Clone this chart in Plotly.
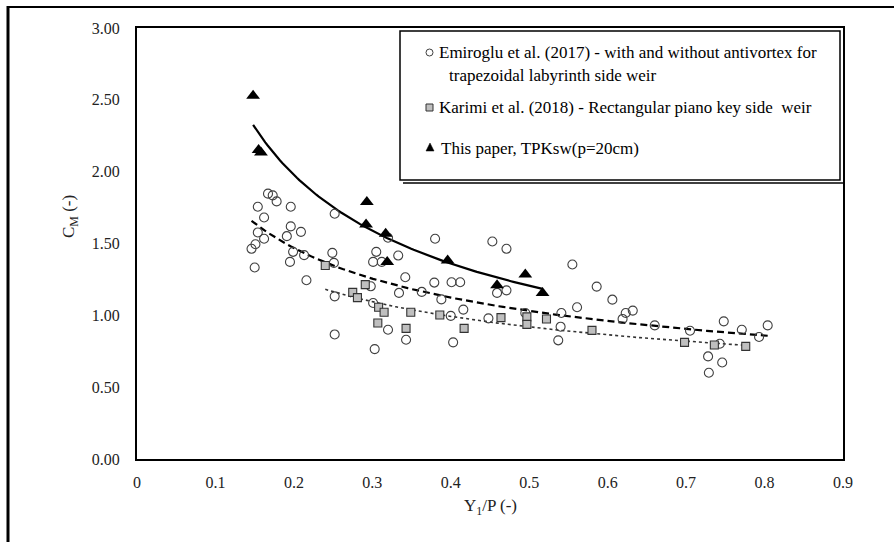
import numpy as np
import plotly.graph_objects as go

# ---------------- data ----------------
emi_x = [0.167, 0.173, 0.178, 0.154, 0.196, 0.162, 0.196, 0.209, 0.154, 0.162,
         0.191, 0.151, 0.146, 0.199, 0.213, 0.195, 0.150, 0.216, 0.252, 0.249,
         0.251, 0.305, 0.301, 0.312, 0.333, 0.320, 0.342, 0.334, 0.363, 0.298,
         0.252, 0.301, 0.380, 0.453, 0.471, 0.379, 0.401, 0.412, 0.471, 0.459,
         0.388, 0.416, 0.400, 0.448, 0.495, 0.541, 0.561, 0.320, 0.252, 0.343,
         0.403, 0.303, 0.540, 0.537, 0.555, 0.586, 0.606, 0.632, 0.623, 0.619,
         0.660, 0.705, 0.748, 0.771, 0.804, 0.793, 0.743, 0.728, 0.746, 0.729]
emi_y = [1.847, 1.835, 1.793, 1.756, 1.756, 1.681, 1.619, 1.581, 1.577, 1.533,
         1.551, 1.495, 1.463, 1.442, 1.419, 1.372, 1.333, 1.244, 1.707, 1.435,
         1.365, 1.442, 1.372, 1.372, 1.416, 1.540, 1.265, 1.156, 1.163, 1.202,
         1.132, 1.086, 1.533, 1.514, 1.463, 1.228, 1.230, 1.230, 1.174, 1.156,
         1.111, 1.040, 0.996, 0.979, 1.016, 1.016, 1.056, 0.900, 0.867, 0.830,
         0.812, 0.765, 0.921, 0.826, 1.354, 1.200, 1.109, 1.033, 1.016, 0.975,
         0.930, 0.893, 0.958, 0.900, 0.930, 0.849, 0.802, 0.714, 0.672, 0.600]

kar_x = [0.240, 0.291, 0.275, 0.281, 0.308, 0.315, 0.307, 0.349, 0.343, 0.386,
         0.417, 0.464, 0.497, 0.497, 0.522, 0.580, 0.698, 0.736, 0.776]
kar_y = [1.347, 1.214, 1.160, 1.123, 1.056, 1.021, 0.947, 1.021, 0.909, 1.002,
         0.909, 0.984, 0.989, 0.937, 0.975, 0.895, 0.812, 0.793, 0.784]

tp_x = [0.148, 0.155, 0.158, 0.293, 0.292, 0.317, 0.319, 0.396, 0.459, 0.495, 0.517]
tp_y = [2.528, 2.151, 2.133, 1.788, 1.633, 1.568, 1.372, 1.382, 1.209, 1.284, 1.156]

x_ticks = [0, 0.1, 0.2, 0.3, 0.4, 0.5, 0.6, 0.7, 0.8, 0.9]
x_tick_text = ["0", "0.1", "0.2", "0.3", "0.4", "0.5", "0.6", "0.7", "0.8", "0.9"]

legend_names = ["Emiroglu et al. (2017) - with and without antivortex for",
                "trapezoidal labyrinth side weir",
                "Karimi et al. (2018) - Rectangular piano key side  weir",
                "This paper, TPKsw(p=20cm)"]

FONT = "Times New Roman, Liberation Serif, serif"

# ---------------- layout geometry (pixels) ----------------
W, H = 894, 542
L, R, T, B = 137, 843, 28, 459


def px(x):
    return (x - L) / (R - L)


def py(y):
    return (B - y) / (B - T)


def power_fit(x, y, n=120):
    x = np.asarray(x, float)
    y = np.asarray(y, float)
    b, lna = np.polyfit(np.log(x), np.log(y), 1)
    xs = np.linspace(x.min(), x.max(), n)
    return xs, np.exp(lna) * xs ** b


fig = go.Figure()

# trend lines
ex, ey = power_fit(emi_x, emi_y)
kx, ky = power_fit(kar_x, kar_y)
tx, ty = power_fit(tp_x, tp_y)
fig.add_trace(go.Scatter(x=ex, y=ey, mode="lines",
                         line=dict(color="black", width=2.2, dash="7px,4px"),
                         showlegend=False, hoverinfo="skip"))
fig.add_trace(go.Scatter(x=kx, y=ky, mode="lines",
                         line=dict(color="#333333", width=1.6, dash="dot"),
                         showlegend=False, hoverinfo="skip"))
fig.add_trace(go.Scatter(x=tx, y=ty, mode="lines",
                         line=dict(color="black", width=2.2),
                         showlegend=False, hoverinfo="skip"))

# markers
fig.add_trace(go.Scatter(x=emi_x, y=emi_y, mode="markers", name=legend_names[0],
                         marker=dict(symbol="circle", size=9, color="rgba(255,255,255,0)",
                                     line=dict(color="#404040", width=1.1)),
                         showlegend=False))
fig.add_trace(go.Scatter(x=kar_x, y=kar_y, mode="markers", name=legend_names[2],
                         marker=dict(symbol="square", size=8, color="#BFBFBF",
                                     line=dict(color="#333333", width=1.1)),
                         showlegend=False))
fig.add_trace(go.Scatter(x=tp_x, y=tp_y, mode="markers", name=legend_names[3],
                         marker=dict(symbol="triangle-up", size=12, color="black",
                                     line=dict(color="black", width=0)),
                         showlegend=False))

shapes = []
# outer frame fragments (left and top)
shapes.append(dict(type="line", xref="paper", yref="paper",
                   x0=px(8), x1=px(894), y0=py(7), y1=py(7),
                   line=dict(color="black", width=2)))
shapes.append(dict(type="line", xref="paper", yref="paper",
                   x0=px(8), x1=px(8), y0=py(6), y1=py(542),
                   line=dict(color="black", width=3)))
# legend box
shapes.append(dict(type="rect", xref="paper", yref="paper",
                   x0=px(400), x1=px(840), y0=py(31), y1=py(180),
                   line=dict(color="black", width=1.5), fillcolor="white", layer="above"))
shapes.append(dict(type="line", xref="paper", yref="paper",
                   x0=px(403), x1=px(843), y0=py(183), y1=py(183),
                   line=dict(color="black", width=1.5), layer="above"))
# legend symbols
shapes.append(dict(type="circle", xref="paper", yref="paper", layer="above",
                   x0=px(426), x1=px(433), y0=py(49), y1=py(56),
                   line=dict(color="#404040", width=1), fillcolor="white"))
shapes.append(dict(type="rect", xref="paper", yref="paper", layer="above",
                   x0=px(426), x1=px(433), y0=py(104), y1=py(111),
                   line=dict(color="#333333", width=1), fillcolor="#BFBFBF"))
shapes.append(dict(type="path", xref="paper", yref="paper", layer="above",
                   path=f"M {px(426)},{py(151)} L {px(434)},{py(151)} L {px(430)},{py(143)} Z",
                   line=dict(color="black", width=0.5), fillcolor="black"))

annotations = []
leg_pos = [(437, 52), (447, 75), (437, 107), (439, 148)]
for txt, (lx, ly) in zip(legend_names, leg_pos):
    annotations.append(dict(xref="paper", yref="paper", x=px(lx), y=py(ly),
                            text=txt, showarrow=False, xanchor="left", yanchor="middle",
                            font=dict(family=FONT, size=17, color="black")))
annotations.append(dict(xref="paper", yref="paper", x=px(70), y=py(217),
                        text="C<sub>M</sub> (-)", textangle=-90, showarrow=False,
                        xanchor="center", yanchor="middle",
                        font=dict(family=FONT, size=17, color="#222222")))
annotations.append(dict(xref="paper", yref="paper", x=px(490), y=py(507),
                        text="Y<sub>1</sub>/P (-)", showarrow=False,
                        xanchor="center", yanchor="middle",
                        font=dict(family=FONT, size=17, color="#222222")))

fig.update_layout(
    width=W, height=H, autosize=False,
    margin=dict(l=L, r=W - R, t=T, b=H - B, pad=0),
    paper_bgcolor="white", plot_bgcolor="white",
    font=dict(family=FONT),
    shapes=shapes, annotations=annotations,
    showlegend=False,
    xaxis=dict(range=[0, 0.9], tickvals=x_ticks, ticktext=x_tick_text,
               showgrid=False, zeroline=False, showline=True, mirror=True,
               linecolor="black", linewidth=2, ticks="",
               ticklabelstandoff=8,
               tickfont=dict(family=FONT, size=16, color="#222222")),
    yaxis=dict(range=[0, 3], dtick=0.5, tickformat=".2f",
               showgrid=False, zeroline=False, showline=True, mirror=True,
               linecolor="black", linewidth=2, ticks="",
               ticklabelstandoff=12,
               tickfont=dict(family=FONT, size=16, color="#222222")),
)

fig.write_html("out.html")
